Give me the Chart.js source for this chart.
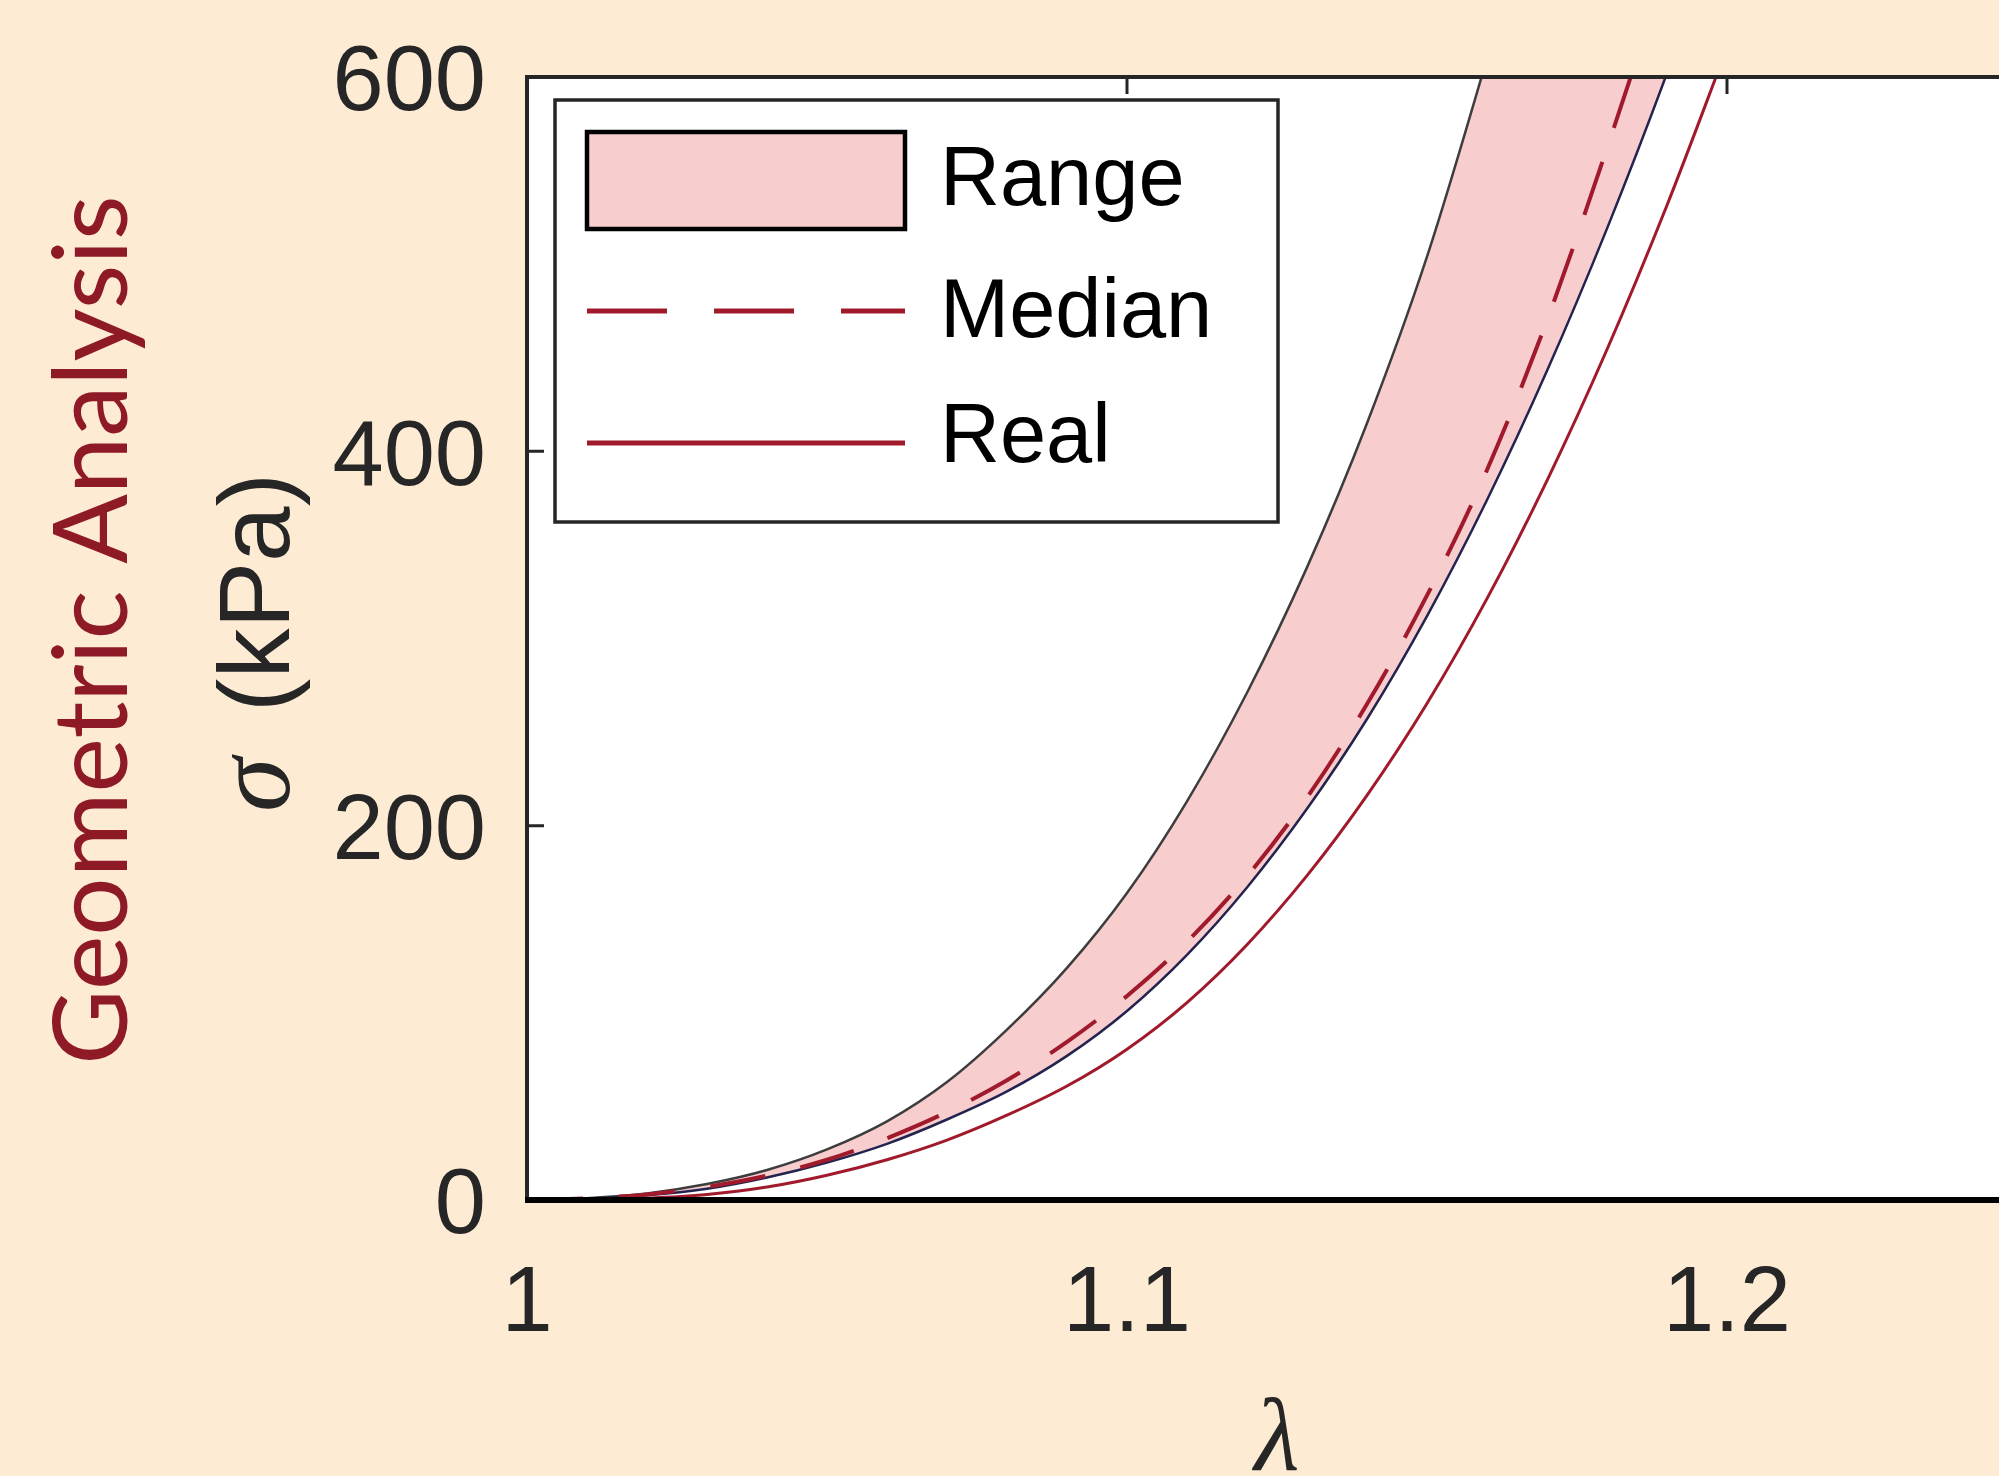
<!DOCTYPE html>
<html>
<head>
<meta charset="utf-8">
<script src="https://cdn.jsdelivr.net/npm/chart.js@4.4.1/dist/chart.umd.min.js"></script>
<style>
  html, body { margin: 0; padding: 0; overflow: hidden; background: #feebd4; }
</style>
</head>
<body>
<canvas id="stress" width="2055" height="1476"></canvas>
<script>
// stretch ratio samples and stress values (kPa)
const lambda = [1.00, 1.01, 1.02, 1.03, 1.04, 1.05, 1.06, 1.07, 1.08, 1.09, 1.10,
                1.11, 1.12, 1.13, 1.14, 1.15, 1.16, 1.17, 1.18, 1.19, 1.20];
const rangeUpper = [0, 1, 3.5, 8.5, 16, 27, 42, 63, 91, 124, 164,
                    213, 271, 338, 415, 504, 610, 724, 852, 997, 1157];
const rangeLower = [0, 0.7, 2.5, 6, 12, 20, 30, 43, 58, 77, 101,
                    131, 167, 209, 257, 312, 374, 443, 519, 602, 692];
const median = [0, 0.9, 3, 7, 13, 21.5, 33, 47, 64, 84.5, 109,
                138, 173, 215, 265, 323, 390, 470, 562, 660, 764];
const real = [0, 0.1, 1, 3, 6.9, 13.2, 21.5, 32, 45.3, 60.9, 80.6,
              105.5, 136.4, 173.3, 216.2, 265.3, 321.3, 384.4, 454.4, 531.5, 615.5];

const xTicks = [1, 1.1, 1.2];
const yTicks = [0, 200, 400, 600];
const legendLabels = ['Range', 'Median', 'Real'];

const PINK = '#f7cdce';
const RED = '#a11a2b';
const NAVY = '#23234f';
const INK = '#262626';

const pts = arr => lambda.map((x, i) => ({ x: x, y: arr[i] }));

// MATLAB-like box, inward ticks, legend and axis texts
const figure = {
    id: 'figure',
    beforeDraw(chart) {
        const { ctx, chartArea: a } = chart;
        ctx.save();
        ctx.fillStyle = '#feebd4';
        ctx.fillRect(0, 0, chart.width, chart.height);
        ctx.fillStyle = '#ffffff';
        ctx.fillRect(a.left, a.top, a.right - a.left, a.bottom - a.top);
        ctx.restore();
    },
    afterDatasetsDraw(chart) {
        const { ctx, chartArea: a, scales: { x, y } } = chart;
        const l = x.getPixelForValue(1);
        const t = y.getPixelForValue(600);
        const b = y.getPixelForValue(0);
        ctx.save();
        ctx.lineCap = 'butt';
        ctx.strokeStyle = INK;
        ctx.lineWidth = 4;
        ctx.beginPath();
        ctx.moveTo(a.right, t);
        ctx.lineTo(l, t);
        ctx.lineTo(l, b);
        ctx.stroke();
        ctx.lineWidth = 3;
        ctx.beginPath();
        yTicks.slice(1, -1).forEach(v => {
            const py = y.getPixelForValue(v);
            ctx.moveTo(l, py);
            ctx.lineTo(l + 17, py);
        });
        xTicks.slice(1).forEach(v => {
            const px = x.getPixelForValue(v);
            ctx.moveTo(px, t);
            ctx.lineTo(px, t + 17);
        });
        ctx.stroke();
        ctx.strokeStyle = '#000';
        ctx.lineWidth = 6;
        ctx.beginPath();
        ctx.moveTo(l - 2, b);
        ctx.lineTo(a.right, b);
        ctx.stroke();
        ctx.restore();
    },
    afterDraw(chart) {
        const { ctx, chartArea: a } = chart;
        ctx.save();

        // legend box
        const lx = a.left + 28, ly = a.top + 23;
        ctx.fillStyle = '#fff';
        ctx.fillRect(lx, ly, 723, 422);
        ctx.strokeStyle = INK;
        ctx.lineWidth = 3.5;
        ctx.strokeRect(lx, ly, 723, 422);

        ctx.fillStyle = PINK;
        ctx.fillRect(a.left + 60, a.top + 55, 318, 97);
        ctx.strokeStyle = '#000';
        ctx.lineWidth = 4.5;
        ctx.strokeRect(a.left + 60, a.top + 55, 318, 97);

        ctx.strokeStyle = RED;
        ctx.lineWidth = 5;
        ctx.setLineDash([80, 47]);
        ctx.beginPath();
        ctx.moveTo(a.left + 60, a.top + 234);
        ctx.lineTo(a.left + 378, a.top + 234);
        ctx.stroke();
        ctx.setLineDash([]);
        ctx.beginPath();
        ctx.moveTo(a.left + 60, a.top + 366);
        ctx.lineTo(a.left + 378, a.top + 366);
        ctx.stroke();

        ctx.fillStyle = '#000';
        ctx.font = '83px "Liberation Sans", Arial, sans-serif';
        ctx.textAlign = 'left';
        ctx.textBaseline = 'alphabetic';
        [128, 260, 385].forEach((dy, i) => ctx.fillText(legendLabels[i], a.left + 413, a.top + dy));

        // x axis title
        ctx.fillStyle = INK;
        ctx.font = 'italic 104px "Liberation Serif", serif';
        ctx.textAlign = 'center';
        ctx.fillText('λ', (a.left + a.right) / 2, a.bottom + 270);

        // y axis title: italic sigma, then (kPa)
        ctx.save();
        ctx.translate(a.left - 238, a.top + 563);
        ctx.rotate(-Math.PI / 2);
        ctx.textAlign = 'left';
        ctx.font = 'italic 110px "Liberation Serif", serif';
        ctx.fillText('σ', -172, 0);
        ctx.textAlign = 'right';
        ctx.font = '100px "Liberation Sans", Arial, sans-serif';
        ctx.fillText('(kPa)', 167, 0);
        ctx.restore();

        // row label
        ctx.save();
        ctx.translate(a.left - 400, a.top + 553);
        ctx.rotate(-Math.PI / 2);
        ctx.fillStyle = '#8f1a27';
        ctx.font = '103px Lato, "Open Sans", sans-serif';
        ctx.textAlign = 'center';
        ctx.fillText('Geometric Analysis', 0, 0);
        ctx.restore();

        ctx.restore();
    }
};

const tickFont = { family: '"Liberation Sans", Arial, sans-serif', size: 92 };

new Chart(document.getElementById('stress'), {
    type: 'line',
    data: {
        datasets: [
            {
                label: legendLabels[0],
                data: pts(rangeUpper),
                borderColor: '#3d3d3d',
                borderWidth: 2.5,
                backgroundColor: PINK,
                fill: 1,
                order: 4
            },
            {
                label: 'lower',
                data: pts(rangeLower),
                borderColor: NAVY,
                borderWidth: 2.5,
                fill: false,
                order: 3
            },
            {
                label: legendLabels[1],
                data: pts(median),
                borderColor: RED,
                borderWidth: 4,
                borderDash: [56, 36],
                fill: false,
                order: 1
            },
            {
                label: legendLabels[2],
                data: pts(real),
                borderColor: RED,
                borderWidth: 3,
                fill: false,
                order: 2
            }
        ]
    },
    options: {
        responsive: false,
        animation: false,
        devicePixelRatio: 1,
        elements: {
            point: { radius: 0 },
            line: { cubicInterpolationMode: 'monotone' }
        },
        layout: { padding: { left: 0, top: 77, right: 28, bottom: 0 } },
        plugins: {
            legend: { display: false },
            tooltip: { enabled: false }
        },
        scales: {
            x: {
                type: 'linear',
                min: 1,
                max: 1.25,
                afterBuildTicks: s => { s.ticks = xTicks.map(v => ({ value: v })); },
                afterFit: s => { s.height = 276; s.paddingLeft = 0; s.paddingRight = 0; },
                grid: { display: false, drawTicks: false },
                border: { display: false },
                ticks: { font: tickFont, color: INK, padding: 50, maxRotation: 0, callback: v => String(v) }
            },
            y: {
                min: 0,
                max: 600,
                afterBuildTicks: s => { s.ticks = yTicks.map(v => ({ value: v })); },
                afterFit: s => { s.width = 527; s.paddingTop = 0; s.paddingBottom = 0; },
                grid: { display: false, drawTicks: false },
                border: { display: false },
                ticks: { font: tickFont, color: INK, padding: 41, labelOffset: 8 }
            }
        }
    },
    plugins: [figure]
});
</script>
</body>
</html>
